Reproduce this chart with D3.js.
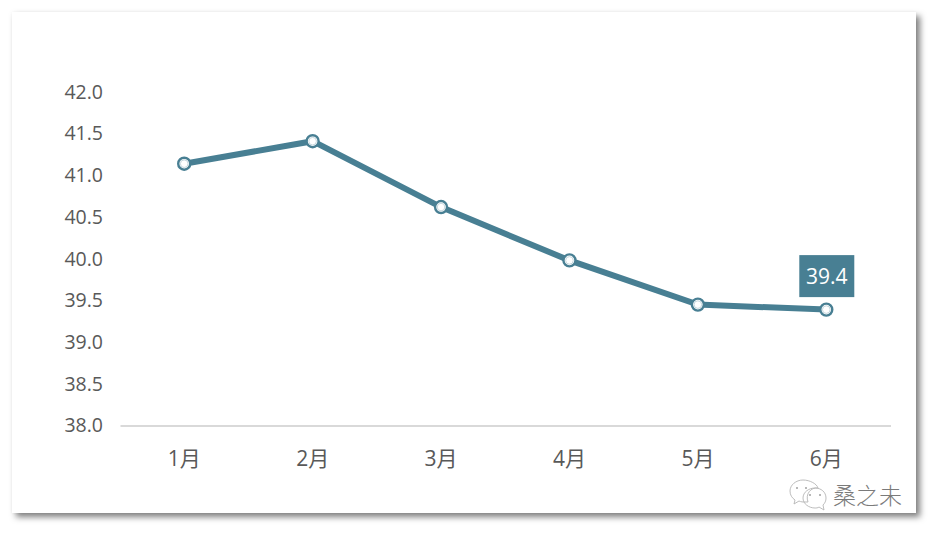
<!DOCTYPE html>
<html>
<head>
<meta charset="utf-8">
<script src="https://cdn.jsdelivr.net/npm/d3@7"></script>
<style>
html, body { margin: 0; padding: 0; background: #fff; overflow: hidden; }
text { font-family: "Open Sans", "Noto Sans CJK SC", sans-serif; }
</style>
</head>
<body>
<script>
var months = ["1月", "2月", "3月", "4月", "5月", "6月"];
var values = [41.14, 41.41, 40.62, 39.98, 39.45, 39.39];
var y_ticks = [38.0, 38.5, 39.0, 39.5, 40.0, 40.5, 41.0, 41.5, 42.0];
var last_label = "39.4";
var watermark = "桑之未";

var width = 932, height = 537;
var color = "#487f93";

var svg = d3.select("body").append("svg")
    .attr("width", width)
    .attr("height", height)
    .style("display", "block");

var defs = svg.append("defs");
var shadow = defs.append("filter")
    .attr("id", "card_shadow")
    .attr("x", "-3%").attr("y", "-3%")
    .attr("width", "106%").attr("height", "106%");
shadow.append("feDropShadow")
    .attr("dx", 0).attr("dy", 0)
    .attr("stdDeviation", 2)
    .attr("flood-color", "#000")
    .attr("flood-opacity", 0.05)
    .attr("result", "glow");
shadow.append("feDropShadow")
    .attr("in", "SourceAlpha")
    .attr("dx", 4).attr("dy", 4)
    .attr("stdDeviation", 3)
    .attr("flood-color", "#000")
    .attr("flood-opacity", 0.5)
    .attr("result", "drop");
var merge = shadow.append("feMerge");
merge.append("feMergeNode").attr("in", "drop");
merge.append("feMergeNode").attr("in", "glow");

// Card behind the chart
svg.append("rect")
    .attr("x", 12).attr("y", 12)
    .attr("width", 904).attr("height", 501)
    .attr("fill", "#fff")
    .attr("filter", "url(#card_shadow)");

var x = d3.scaleBand().domain(months).range([120, 890.5]);
var y = d3.scaleLinear().domain([38, 42]).range([425.5, 92]);

var y_axis = d3.axisLeft(y)
    .tickValues(y_ticks)
    .tickSize(0)
    .tickPadding(0)
    .tickFormat(d3.format(".1f"));

var y_g = svg.append("g")
    .attr("transform", "translate(103,0)")
    .call(y_axis);
y_g.select(".domain").remove();
y_g.selectAll("text")
    .attr("fill", "#595959")
    .style("font-size", "19.5px");

var x_axis = d3.axisBottom(x).tickSize(0).tickPadding(0);
var x_g = svg.append("g")
    .attr("transform", "translate(0," + y(38) + ")")
    .call(x_axis);
x_g.select(".domain")
    .attr("stroke", "#d9d9d9")
    .attr("stroke-width", 2);
x_g.selectAll("text")
    .attr("y", 25.5)
    .attr("fill", "#595959")
    .style("font-size", "21px");

var line = d3.line()
    .x(function(d, i) { return x(months[i]) + x.bandwidth() / 2; })
    .y(function(d) { return y(d); });

svg.append("path")
    .datum(values)
    .attr("d", line)
    .attr("fill", "none")
    .attr("stroke", color)
    .attr("stroke-width", 6);

var cx = function(d, i) { return x(months[i]) + x.bandwidth() / 2; };
var cy = function(d) { return y(d); };

svg.selectAll(".pt")
    .data(values)
    .enter().append("circle")
    .attr("class", "pt")
    .attr("cx", cx)
    .attr("cy", cy)
    .attr("r", 6)
    .attr("fill", "#fff")
    .attr("stroke", color)
    .attr("stroke-width", 2.4);

svg.selectAll(".pt_inner")
    .data(values)
    .enter().append("circle")
    .attr("class", "pt_inner")
    .attr("cx", cx)
    .attr("cy", cy)
    .attr("r", 3.8)
    .attr("fill", "#fff")
    .attr("stroke", "#c5d7de")
    .attr("stroke-width", 1);

// Label on the last point
var last_x = x(months[5]) + x.bandwidth() / 2,
    last_y = y(values[5]);

svg.append("rect")
    .attr("x", last_x - 27)
    .attr("y", last_y - 54.5)
    .attr("width", 55)
    .attr("height", 42)
    .attr("fill", color);

svg.append("text")
    .attr("x", last_x + 0.5)
    .attr("y", last_y - 25.5)
    .attr("text-anchor", "middle")
    .attr("fill", "#fff")
    .style("font-size", "21px")
    .text(last_label);

// Watermark, two chat bubbles and the name
var wm = svg.append("g")
    .attr("fill", "none")
    .attr("stroke", "#b5b5b5")
    .attr("stroke-width", 0.9);

wm.append("path")
    .attr("d", "M803 480c-7 0-13 5-13 11 0 4 2 7 5 9l-1 4 5-3c2 1 4 1 6 1 1 0 2 0 3 0-3-8 3-15 10-14-1-4-8-8-15-8z");
wm.append("path")
    .attr("d", "M815 488c-6 0-12 4-12 10s6 10 12 10c1 0 3 0 4-1l5 3-1-5c2-2 3-4 3-7 0-6-5-10-11-10z");
[[797, 488], [806, 488], [810, 495], [820, 495]].forEach(function(p) {
    wm.append("circle")
        .attr("cx", p[0]).attr("cy", p[1]).attr("r", 1)
        .attr("fill", "#a0a0a0").attr("stroke", "none");
});

svg.append("text")
    .attr("x", 833)
    .attr("y", 504)
    .attr("fill", "#7a7a7a")
    .attr("stroke", "#fff")
    .attr("stroke-width", 2.5)
    .attr("paint-order", "stroke")
    .style("font-size", "23px")
    .style("font-weight", 300)
    .text(watermark);
</script>
</body>
</html>
